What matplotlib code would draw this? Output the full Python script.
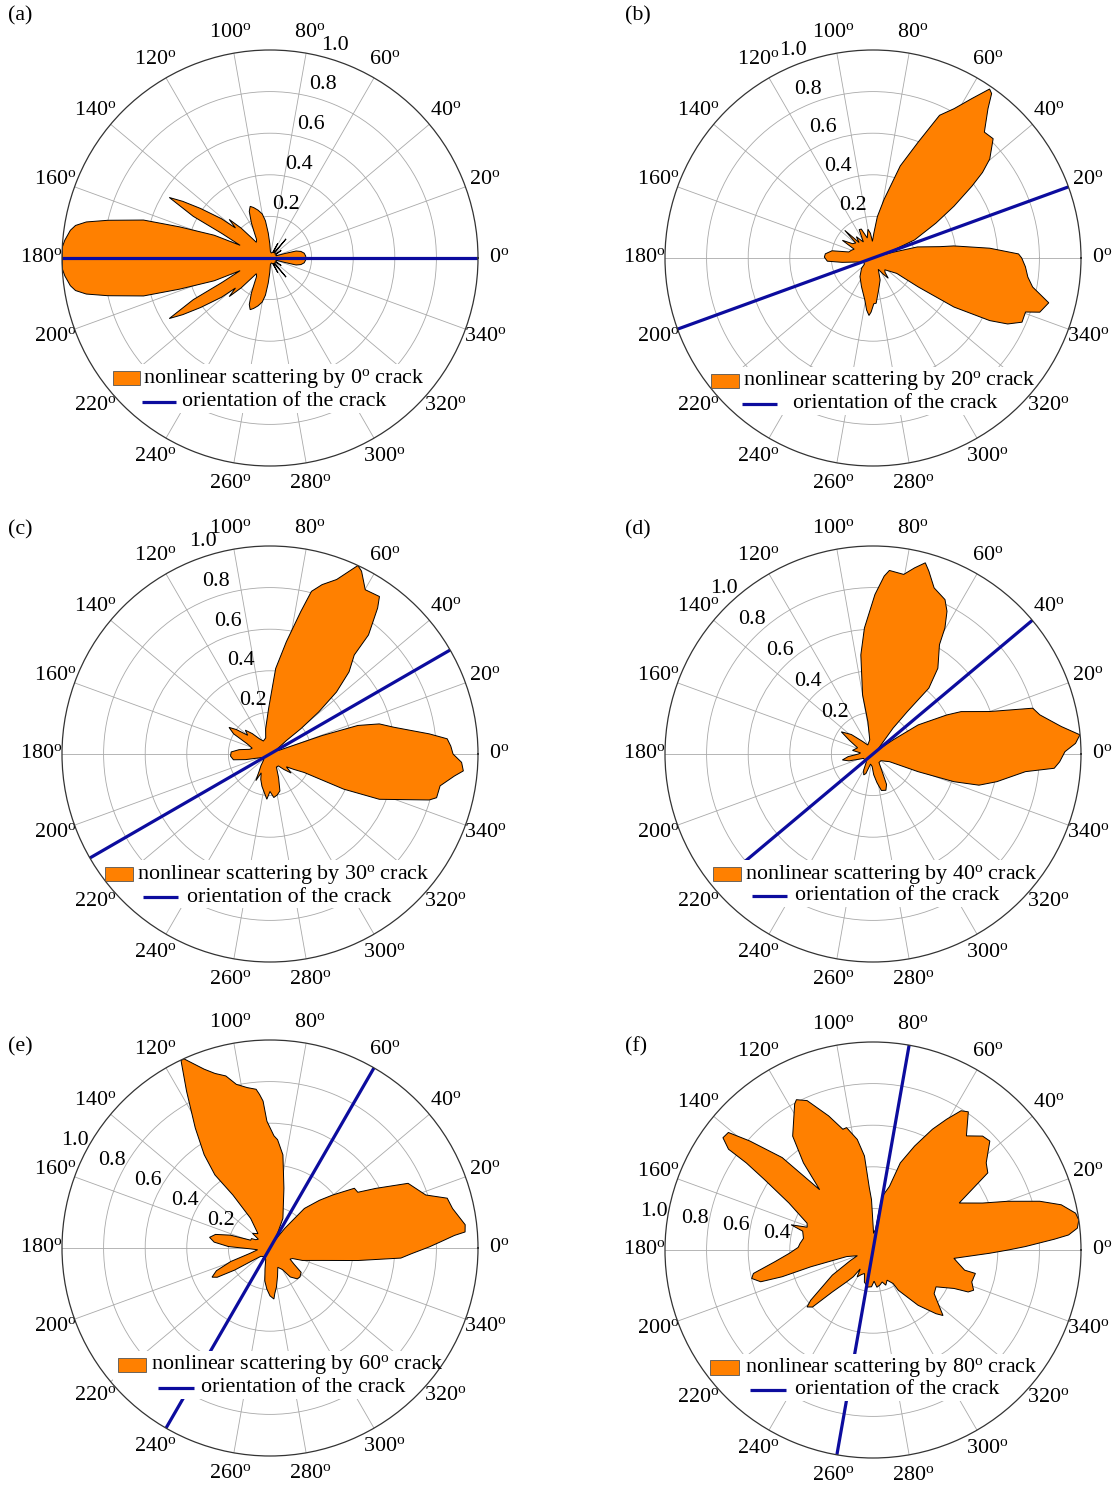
import numpy as np
import matplotlib
matplotlib.use('Agg')
import matplotlib.pyplot as plt
from matplotlib.patches import Rectangle
from matplotlib.lines import Line2D

plt.rcParams['font.family'] = ['Liberation Serif', 'DejaVu Serif']
plt.rcParams['mathtext.fontset'] = 'custom'
plt.rcParams['mathtext.rm'] = 'Liberation Serif'
plt.rcParams['mathtext.it'] = 'Liberation Serif:italic'
plt.rcParams['mathtext.bf'] = 'Liberation Serif:bold'
plt.rcParams['mathtext.default'] = 'regular'

# ---------------- data ----------------
panel_tags = ['(a)', '(b)', '(c)', '(d)', '(e)', '(f)']
crack_deg = [0, 20, 30, 40, 60, 80]
theta_ticks = list(range(0, 360, 20))
r_ticks = [0.2, 0.4, 0.6, 0.8, 1.0]
legend_fill_text = 'nonlinear scattering by ${}^{{o}}$ crack'
legend_line_text = 'orientation of the crack'

# outlines of the scattering pattern: (angle in degrees, normalised amplitude)
outline_a = [(0, .172), (3, .172), (8, .166), (12, .152), (15, .13), (17, .07), (20, .03), (30, .035),
             (34, .065), (37, .03), (47, .035), (50, .12), (53, .035), (58, .03), (62, .08), (65, .03),
             (75, .025), (86, .03), (91, .07), (94, .12), (97, .18), (100, .215), (104, .237), (108, .255),
             (111, .266), (114, .245), (118, .19), (122, .14), (126, .11), (131, .1), (134, .2), (136.6, .27),
             (139, .22), (141, .3), (144.5, .41), (147, .5), (149, .565), (151.5, .42), (153, .26), (157, .156),
             (157.8, .29), (161, .46), (163.3, .635), (166.9, .8), (168.9, .9), (170.5, .948), (172.1, .969),
             (175, .99), (177, 1.0), (180, 1.0), (183, 1.0), (185, .99), (187.9, .969), (189.5, .948),
             (191.1, .9), (193.1, .8), (196.7, .635), (199, .46), (202.2, .29), (203, .156), (207, .26),
             (208.5, .42), (211, .565), (213, .5), (215.5, .41), (219, .3), (221, .22), (223.4, .27), (226, .2),
             (229, .1), (234, .11), (238, .14), (242, .19), (246, .245), (249, .266), (252, .255), (256, .237),
             (260, .215), (263, .18), (266, .12), (269, .07), (274, .03), (285, .025), (295, .03), (298, .08),
             (302, .03), (307, .035), (310, .12), (313, .035), (323, .03), (326, .065), (330, .035), (340, .03),
             (343, .07), (345, .13), (348, .152), (352, .166), (357, .172)]

outline_b = [(0, .715), (1.6, .70), (4.8, .563), (8.5, .393), (9.6, .327), (14, .22), (16, .1), (18, .04),
             (21, .1), (23.5, .218), (29, .346), (32.6, .462), (36, .588), (38, .668), (40.3, .736), (44.8, .814),
             (48.5, .808), (52.4, .906), (54.2, .975), (55.4, .987), (58.2, .902), (61.5, .817), (65, .757),
             (68.7, .598), (73.5, .462), (79.3, .287), (84, .2), (88, .12), (92, .08), (96, .12), (100, .14),
             (106, .1), (112, .15), (116, .152), (121, .09), (128, .13), (132, .1), (135.6, .19), (139, .11),
             (145, .12), (150, .17), (155, .1), (160, .11), (166, .12), (170, .2), (175, .23), (179, .234),
             (184, .22), (188, .15), (194, .08), (205, .05), (215, .05), (222, .074), (235, .109), (248, .148),
             (259, .206), (263, .252), (266, .277), (268, .26), (271, .22), (274, .218), (280, .156), (288, .111),
             (295, .06), (302, .09), (307, .122), (310, .09), (315, .08), (321, .1), (327, .136), (327.4, .258),
             (328.8, .455), (331.8, .637), (333.9, .721), (336.7, .78), (340.5, .778), (342, .843), (345.7, .872),
             (349.7, .78), (353, .75), (356.7, .734)]

outline_c = [(0, .88), (2.5, .87), (4.9, .855), (7.2, .772), (12.2, .609), (15.4, .545), (18, .444),
             (19.5, .266), (20, .14), (22, .05), (30, .03), (36, .05), (39.4, .102), (39.3, .191), (40.8, .309),
             (43, .437), (46.1, .548), (49.6, .625), (50.4, .743), (53.6, .872), (55.2, .922), (59.9, .913),
             (63.4, .983), (65, 1.0), (69.1, .898), (72.9, .852), (75.7, .807), (77.8, .701), (81.7, .546),
             (86.2, .412), (91.8, .218), (99.8, .123), (105, .08), (117, .07), (125, .09), (131, .13), (136, .165),
             (140, .14), (144, .2), (147, .235), (151, .2), (156, .12), (162, .09), (167, .1), (172, .15),
             (177, .187), (183, .19), (189, .178), (193, .12), (197, .07), (205, .04), (222, .04), (232, .07),
             (238, .1), (242, .145), (245, .1), (250, .13), (256, .16), (262, .19), (266, .218), (270, .18),
             (275, .21), (280, .2), (285, .184), (290, .12), (296, .07), (305, .07), (312, .1), (318, .137),
             (322, .1), (327, .135), (331.6, .187), (334.5, .392), (337.5, .569), (343.9, .797), (345.3, .828),
             (349.4, .832), (353.2, .893), (355, .933), (357.5, .922)]

outline_d = [(0.7, .923), (3, .975), (5.3, .999), (8.3, .915), (13.2, .824), (16, .799), (20, .597),
             (25.7, .47), (27.9, .401), (32.8, .258), (35, .12), (38, .04), (46, .04), (52.2, .157), (51, .263),
             (49.7, .415), (52.9, .517), (58.7, .615), (60.3, .698), (62.6, .773), (65, .819), (69.8, .851),
             (73, .919), (74.7, .953), (77.4, .917), (80.3, .876), (84.9, .886), (86.4, .857), (89.3, .767),
             (93.9, .607), (97, .48), (100, .289), (99, .157), (103, .07), (120, .05), (130, .08), (138, .14),
             (145, .186), (150, .13), (158, .08), (165, .09), (170, .1), (175, .06), (180, .07), (186, .12),
             (191, .15), (196, .12), (205, .05), (230, .05), (240, .09), (246, .11), (250, .1), (256, .05),
             (266, .06), (272, .1), (278, .14), (283, .18), (289.6, .185), (294, .16), (298, .09), (305, .05),
             (320, .05), (330, .07), (335, .087), (338.6, .233), (341.1, .411), (343.6, .531), (347.4, .61),
             (353.4, .738), (355.5, .874), (357.6, .898)]

outline_e = [(0.4, .766), (2, .818), (3.9, .889), (4.7, .941), (6.8, .945), (12.2, .898), (15.7, .885),
             (18.8, .791), (25.1, .733), (29.4, .584), (32.4, .5), (35.3, .497), (40.2, .395), (44, .33),
             (49, .252), (53, .12), (58, .04), (63, .08), (66.4, .155), (76.9, .295), (82.1, .452), (86, .522),
             (88, .54), (91.4, .61), (92.7, .707), (93.9, .74), (95, .766), (98.1, .779), (101.6, .803),
             (104.4, .854), (107.5, .88), (110.2, .916), (114.5, 1.0), (115.4, .997), (118, .855), (121.9, .68),
             (125.2, .549), (127, .44), (125, .311), (123.2, .17), (130, .09), (140, .11), (143, .07), (150, .08),
             (153, .1), (158, .1), (162, .2), (166, .27), (170, .295), (174, .27), (178, .2), (182, .1), (188, .06),
             (195, .1), (199, .2), (203, .28), (206.7, .312), (209, .29), (212, .2), (216, .1), (222, .06),
             (235, .05), (240, .09), (243, .05), (250, .06), (256.5, .103), (261, .16), (265.6, .198), (270, .23),
             (274.4, .246), (276, .22), (279.3, .191), (285, .14), (292, .1), (300, .12), (305, .17),
             (311.5, .198), (316, .2), (322, .19), (326, .14), (331, .11), (335, .12), (339, .167), (346.6, .258),
             (351.9, .427), (355.6, .631), (357.7, .681)]

outline_f = [(0, .65), (1.3, .733), (3.4, .873), (4.4, .943), (6.1, .988), (8.3, 1.0), (10.3, .99),
             (13.5, .931), (16.3, .835), (19.9, .688), (23.2, .573), (28.6, .472), (31.4, .557), (33.9, .665),
             (37.6, .687), (43, .768), (46.1, .76), (50.7, .709), (55.4, .807), (57.7, .792), (60.6, .722),
             (63.8, .647), (68.2, .538), (72.6, .439), (75.5, .316), (80.1, .262), (81, .212), (83, .1), (88, .08),
             (91.7, .242), (93.4, .3), (95.2, .454), (98.1, .537), (102.2, .602), (104, .598), (108.3, .679),
             (113.8, .785), (117, .811), (118.2, .797), (125.2, .67), (128.6, .536), (131.5, .387), (134.5, .623),
             (138.5, .791), (140.9, .896), (143.2, .901), (145.1, .847), (145.5, .739), (147, .623), (150.8, .463),
             (157.9, .342), (160.9, .335), (162.9, .412), (165, .35), (170.5, .339), (174.8, .352), (178, .36),
             (182.3, .403), (186.8, .475), (191.1, .586), (193.2, .599), (195.8, .561), (196.4, .456),
             (195.1, .31), (194, .131), (200, .08), (205, .12), (211.7, .23), (218.9, .385), (220.8, .419),
             (223.3, .4), (225.9, .281), (230.3, .2), (233.6, .16), (236, .11), (239.5, .15), (245, .13),
             (250, .12), (255, .16), (262, .18), (267.7, .177), (272, .15), (276, .18), (281, .172), (286, .16),
             (290, .18), (295, .16), (301, .188), (302.2, .229), (309.2, .343), (314.7, .431), (316.9, .461),
             (324.5, .361), (329.7, .351), (334.6, .431), (336.2, .5), (338.2, .521), (342.1, .499),
             (347.1, .505), (347.6, .451), (354.1, .391), (358.4, .561)]

outlines = [outline_a, outline_b, outline_c, outline_d, outline_e, outline_f]

# ---------------- layout (pixels) ----------------
W, H = 1120, 1486
R = 208
FS = 15.8
centers = [(270, 258), (873, 258), (270, 754), (873, 754), (270, 1248), (873, 1250)]
rlabel_dir = [73, 111, 107.5, 132, 151, 170]
tag_pos = [(8, 16), (625, 16), (8, 530), (625, 530), (8, 1047), (625, 1047)]
# patch_x0, patch_x1, text1_x, patch_dy, line_x0, line_x1, text2_x, line_dy
legend_geo = [(51, 78, 81, 120, 80, 114, 120, 144),
              (46, 74, 78, 123, 77, 112, 128, 146),
              (43, 71, 75, 120, 81, 116, 125, 143),
              (48, 76, 80, 120, 87, 122, 130, 142),
              (56, 84, 89, 117, 96, 132, 139, 140),
              (45, 74, 80, 117.5, 85, 121, 130, 140)]

ORANGE = '#ff8000'
BLUE = '#0c0c9e'

fig = plt.figure(figsize=(W / 100, H / 100), dpi=100)

for i in range(6):
    cx, cy = centers[i]
    ax = fig.add_axes([(cx - R) / W, 1 - (cy + R) / H, 2 * R / W, 2 * R / H], projection='polar')
    ax.set_ylim(0, 1)
    ax.set_xticks(np.radians(theta_ticks))
    ax.set_yticks(r_ticks[:-1])
    ax.set_xticklabels([])
    ax.set_yticklabels([])
    ax.tick_params(length=0)
    ax.grid(True, color='#a9a9a9', lw=0.6)
    ax.set_axisbelow(True)
    ax.spines['polar'].set_color('#333333')
    ax.spines['polar'].set_linewidth(0.9)
    ax.spines['polar'].set_zorder(5)

    th, rr = zip(*outlines[i])
    ax.fill(np.radians(th), rr, facecolor=ORANGE, edgecolor='black', lw=0.7, zorder=1)

    a = np.radians(crack_deg[i])
    ax.plot([a, a, a + np.pi], [1, 0, 1], color=BLUE, lw=2.3, zorder=2, solid_capstyle='butt')

    for t in theta_ticks:
        ax.text(np.radians(t), 1.1, rf'${t}^{{o}}$', ha='center', va='center', fontsize=FS)
    for v in r_ticks:
        ax.text(np.radians(rlabel_dir[i]), v + 0.07, f'{v:.1f}', ha='center', va='center',
                fontsize=FS, zorder=0.8)

    px0, px1, t1x, pdy, lx0, lx1, t2x, ldy = legend_geo[i]
    D = 2.0 * R
    box = Rectangle(((px0 - 5) / D, 0.5 - (ldy + 11) / D), 335 / D, (ldy + 11 - (pdy - 14)) / D,
                    transform=ax.transAxes, facecolor='white', edgecolor='none', zorder=4)
    ax.add_patch(box)
    patch = Rectangle((px0 / D, 0.5 - (pdy + 7.3) / D), (px1 - px0) / D, 14.6 / D,
                      transform=ax.transAxes, facecolor=ORANGE, edgecolor='#555555', lw=0.6, zorder=6)
    ax.add_patch(patch)
    ln = Line2D([lx0 / D, lx1 / D], [0.5 - ldy / D] * 2, transform=ax.transAxes, color=BLUE, lw=2.3,
                zorder=6, solid_capstyle='butt')
    ax.add_artist(ln)
    ax.text(t1x / D, 0.5 - pdy / D, legend_fill_text.format(crack_deg[i]), transform=ax.transAxes,
            ha='left', va='center', fontsize=FS, zorder=6)
    ax.text(t2x / D, 0.5 - ldy / D, legend_line_text, transform=ax.transAxes,
            ha='left', va='center', fontsize=FS, zorder=6)

    fig.text(tag_pos[i][0] / W, 1 - tag_pos[i][1] / H, panel_tags[i], ha='left', va='center', fontsize=FS)

fig.savefig('out.png', dpi=100)
